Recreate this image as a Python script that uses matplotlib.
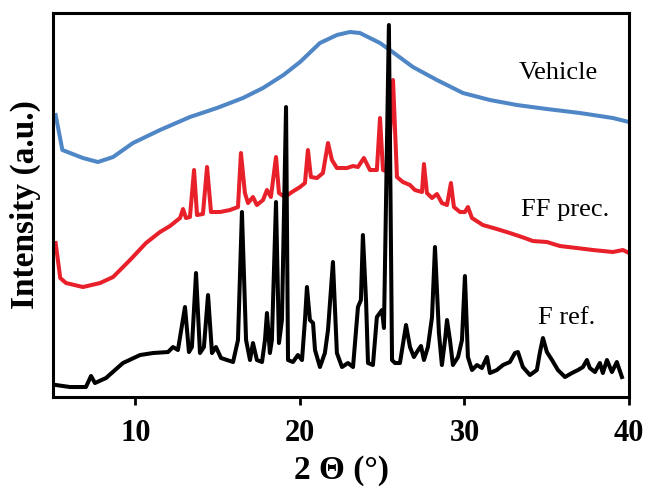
import numpy as np
import matplotlib
matplotlib.use('Agg')
import matplotlib.pyplot as plt

plt.rcParams['font.family'] = ['Liberation Serif', 'DejaVu Serif']

# Vehicle (blue)
vehicle_x = [5.16, 5.57, 6.82, 7.73, 8.65, 9.86, 11.50, 13.32, 14.96, 16.54, 17.76, 19.00, 20.01, 21.22,
             22.25, 23.04, 23.65, 24.87, 25.47, 26.87, 28.33, 29.91, 31.55, 33.19, 35.01, 37.02, 39.02, 40.0]
vehicle_y = [282, 247, 239, 235, 240, 254, 267, 280, 289, 299, 309, 322, 335, 354,
             362, 365, 364, 354, 347, 330, 317, 304, 297, 292, 288, 284, 279, 275]

# FF prec. (red)
ff_x = [5.16, 5.44, 5.79, 6.82, 7.86, 8.65, 9.68, 10.65, 11.50, 12.11, 12.41, 12.72, 12.90, 13.08, 13.32,
        13.57, 13.75, 14.11, 14.36, 14.60, 15.15, 15.75, 16.24, 16.42, 16.66, 16.85, 17.15, 17.39, 17.76,
        18.00, 18.24, 18.55, 18.73, 19.09, 19.52, 20.01, 20.31, 20.49, 20.67, 21.04, 21.40, 21.71, 21.95,
        22.25, 22.86, 23.23, 23.53, 23.89, 24.26, 24.68, 24.87, 25.05, 25.35, 25.66, 25.90, 26.26, 26.69,
        26.99, 27.42, 27.54, 27.72, 28.03, 28.33, 28.63, 28.94, 29.18, 29.36, 29.73, 30.03, 30.21, 30.46,
        31.12, 31.97, 32.76, 33.49, 34.16, 35.01, 35.80, 36.83, 37.81, 39.02, 39.63, 40.0]
ff_y = [154, 119, 114, 110, 114, 120, 137, 154, 165, 171, 175, 179, 188, 179, 180,
        227, 182, 183, 230, 185, 185, 187, 190, 244, 204, 194, 200, 192, 197,
        207, 200, 240, 204, 200, 205, 210, 214, 247, 220, 219, 224, 254, 237,
        229, 229, 231, 230, 239, 227, 227, 279, 227, 225, 317, 220, 215, 212,
        207, 205, 233, 204, 199, 203, 194, 192, 214, 190, 185, 185, 190, 179,
        172, 168, 164, 160, 156, 155, 151, 149, 147, 145, 147, 144]

# F ref. (black)
fref_x = [5.18, 6.03, 7.00, 7.31, 7.55, 8.22, 9.25, 10.29, 11.08, 11.99, 12.29, 12.59, 13.02, 13.26, 13.44,
          13.69, 13.93, 14.17, 14.42, 14.66, 14.90, 15.21, 15.94, 16.24, 16.48, 16.73, 16.97, 17.15, 17.39,
          17.70, 17.88, 18.00, 18.18, 18.30, 18.55, 18.73, 18.91, 19.16, 19.28, 19.58, 19.88, 20.13, 20.31,
          20.43, 20.61, 20.80, 20.92, 21.22, 21.52, 21.71, 22.01, 22.25, 22.56, 22.92, 23.23, 23.53, 23.71,
          23.83, 24.02, 24.14, 24.44, 24.68, 24.99, 25.11, 25.41, 25.60, 25.78, 26.08, 26.45, 26.69, 26.93,
          27.11, 27.36, 27.54, 27.78, 28.03, 28.21, 28.45, 28.63, 28.82, 28.94, 29.12, 29.30, 29.61, 29.85,
          30.03, 30.21, 30.46, 30.76, 31.06, 31.37, 31.55, 31.97, 32.34, 32.76, 33.07, 33.25, 33.55, 33.98,
          34.40, 34.59, 34.77, 35.01, 35.32, 35.68, 36.11, 36.53, 36.90, 37.20, 37.44, 37.62, 37.93, 38.23,
          38.41, 38.66, 38.96, 39.26, 39.57]
fref_y = [12, 10, 10, 21, 14, 19, 34, 42, 44, 45, 50, 47, 90, 45, 50,
          124, 44, 50, 102, 44, 50, 39, 35, 57, 185, 57, 37, 54, 37,
          35, 57, 84, 44, 57, 195, 54, 77, 290, 37, 35, 42, 37, 77,
          110, 77, 74, 47, 30, 44, 67, 135, 44, 30, 34, 30, 90, 97,
          162, 97, 34, 32, 80, 87, 69, 372, 37, 34, 34, 72, 50, 40,
          45, 51, 37, 50, 80, 150, 64, 32, 57, 77, 57, 32, 40, 57,
          121, 40, 27, 32, 29, 40, 24, 27, 32, 35, 44, 45, 30, 22,
          27, 45, 59, 45, 37, 27, 20, 24, 27, 30, 37, 29, 25, 34,
          24, 37, 25, 35, 20]

series_labels = ['Vehicle', 'FF prec.', 'F ref.']
label_pos = [(35.7, 324), (36.1, 187), (36.2, 79)]
x_ticks = [10, 20, 30, 40]

fig = plt.figure(figsize=(6.48, 4.91), dpi=100)
ax = fig.add_axes([0.0818, 0.1914, 0.8889, 0.7821])

ax.plot(vehicle_x, vehicle_y, color='#4F86C6', lw=2.9, solid_joinstyle='round')
ax.plot(ff_x, ff_y, color='#E8202A', lw=2.9, solid_joinstyle='round')
ax.plot(fref_x, fref_y, color='black', lw=2.9, solid_joinstyle='round')

for text, (tx, ty) in zip(series_labels, label_pos):
    ax.text(tx, ty, text, fontsize=19, ha='center', va='center')

ax.set_xlim(5, 40)
ax.set_ylim(0, 384)
ax.set_xticks(x_ticks)
ax.set_yticks([])
ax.tick_params(axis='x', direction='out', length=6, width=2, pad=10, labelsize=22)
for lbl in ax.get_xticklabels():
    lbl.set_fontweight('bold')
for s in ax.spines.values():
    s.set_linewidth(2.2)

ax.set_xlabel('2 Θ (°)', fontsize=24, fontweight='bold', labelpad=5)
ax.set_ylabel('Intensity (a.u.)', fontsize=24, fontweight='bold', labelpad=9)

fig.savefig('out.png', dpi=100)
